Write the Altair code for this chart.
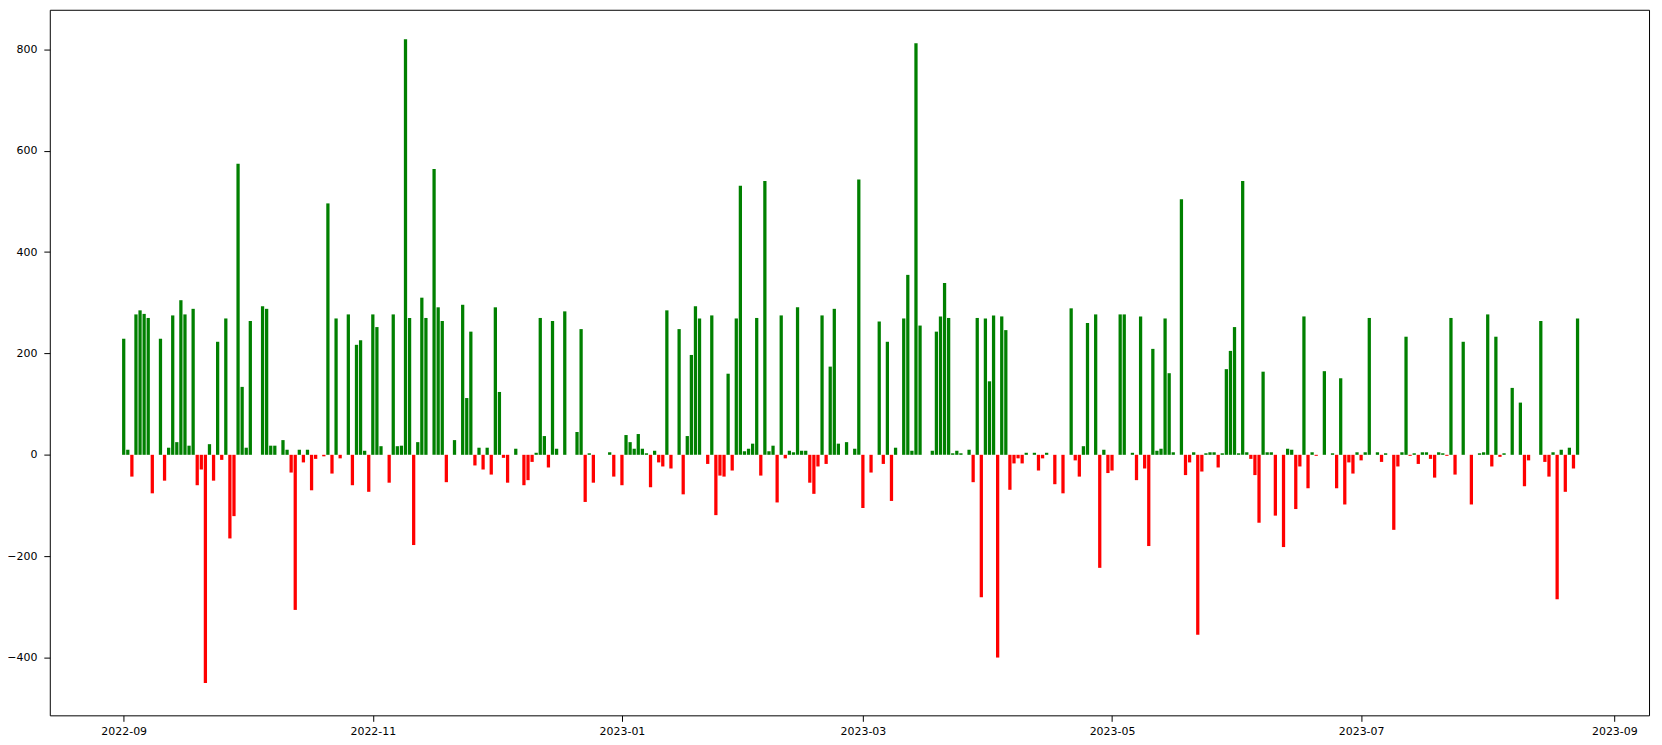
import altair as alt
import pandas as pd

# day offsets from 2022-09-01 and values
days = [0,1,2,3,4,5,6,7,9,10,11,12,13,14,15,16,17,18,19,20,21,22,23,24,25,26,27,28,29,30,31,
        34,35,36,37,39,40,41,42,43,44,45,46,47,49,50,51,52,53,55,56,57,58,59,60,61,62,63,65,66,67,68,69,70,
        71,72,73,74,76,77,78,79,81,83,84,85,86,87,88,89,90,91,92,93,94,96,98,99,100,101,102,103,104,105,106,
        108,111,112,113,114,115,119,120,122,123,124,125,126,127,128,129,130,131,132,133,134,136,137,138,139,140,141,
        143,144,145,146,147,148,149,150,151,152,153,154,155,156,157,158,159,160,161,162,163,164,165,166,167,168,169,170,
        171,172,173,174,175,177,179,180,181,183,185,186,187,188,189,191,192,193,194,195,198,199,200,201,202,203,204,205,
        207,208,209,210,211,212,213,214,215,216,217,218,219,220,221,223,224,225,226,228,230,232,233,234,235,236,238,239,
        240,241,242,244,245,247,248,249,250,251,252,253,254,255,256,257,259,260,261,262,263,264,265,266,267,268,269,270,
        271,272,273,274,275,276,277,278,279,280,281,282,284,285,286,287,288,289,290,291,292,294,296,297,298,299,300,301,
        302,303,304,305,307,308,309,311,312,313,314,315,316,317,318,319,320,321,322,323,324,325,326,328,330,332,333,334,
        335,336,337,338,340,342,343,344,347,348,349,350,351,352,353,354,355,356]

values = [229,10,-43,277,285,278,270,-76,229,-51,14,275,25,305,277,18,288,-60,-29,-450,21,-51,223,-10,269,-165,-121,574,134,14,264,
          293,288,18,18,29,10,-35,-306,10,-15,10,-70,-8,-3,496,-37,269,-7,277,-60,217,226,8,-73,277,252,17,-55,277,17,18,820,270,
          -178,25,310,270,564,291,264,-54,29,296,112,243,-21,14,-29,14,-39,291,124,-6,-55,12,-60,-50,-14,4,270,37,-25,264,12,
          283,45,248,-93,3,-55,5,-43,-60,39,25,12,41,12,3,-64,8,-15,-23,285,-27,248,-78,37,197,293,269,
          -18,275,-119,-41,-43,160,-31,269,531,7,12,22,270,-41,540,7,18,-94,275,-7,8,5,291,8,8,-55,-77,-23,
          275,-18,174,288,22,25,12,543,-105,-35,263,-18,223,-91,14,269,355,8,812,255,8,243,273,339,270,3,8,3,
          10,-54,270,-281,269,145,275,-400,273,246,-69,-17,-7,-17,4,4,-31,-7,4,-58,-76,289,-11,-43,17,260,277,-223,
          10,-36,-31,277,277,4,-50,273,-27,-180,209,8,12,269,161,5,504,-40,-15,5,-355,-33,3,5,5,-25,3,169,
          205,252,3,540,5,-8,-40,-134,164,5,5,-120,-182,12,10,-107,-23,273,-66,5,-2,165,3,-66,151,-98,-15,-37,
          5,-11,5,270,5,-14,3,-148,-23,5,233,-2,3,-18,5,5,-8,-45,5,3,-2,270,-39,223,-98,3,5,277,
          -23,233,-4,3,132,103,-62,-11,264,-14,-43,5,-285,10,-73,14,-27,269]

y_ticks = [-400, -200, 0, 200, 400, 600, 800]

base = pd.Timestamp("2022-09-01")
df = pd.DataFrame({"day": days, "value": values})
df["date"] = base + pd.to_timedelta(df["day"], unit="D")
df["start"] = df["date"] - pd.Timedelta(hours=9.6)
df["end"] = df["date"] + pd.Timedelta(hours=9.6)

x_ticks = [alt.DateTime(year=2022, month=9, date=1),
           alt.DateTime(year=2022, month=11, date=1),
           alt.DateTime(year=2023, month=1, date=1),
           alt.DateTime(year=2023, month=3, date=1),
           alt.DateTime(year=2023, month=5, date=1),
           alt.DateTime(year=2023, month=7, date=1),
           alt.DateTime(year=2023, month=9, date=1)]

chart = alt.Chart(df).mark_bar().encode(
    x=alt.X("start:T",
            scale=alt.Scale(domain=[alt.DateTime(year=2022, month=8, date=13, hours=21, minutes=36),
                                    alt.DateTime(year=2023, month=9, date=9, hours=12)]),
            axis=alt.Axis(values=x_ticks, format="%Y-%m", title=None, grid=False, domain=False,
                          tickSize=6, tickColor="black", labelPadding=4, labelFontSize=11,
                          labelFont="DejaVu Sans", labelColor="black", labelFlush=False)),
    x2="end:T",
    y=alt.Y("value:Q",
            scale=alt.Scale(domain=[-514, 878], nice=False, zero=False),
            axis=alt.Axis(values=y_ticks, title=None, grid=False, domain=False,
                          tickSize=6, tickColor="black", labelPadding=7, labelFontSize=11,
                          labelFont="DejaVu Sans", labelColor="black")),
    y2=alt.datum(0),
    color=alt.condition("datum.value >= 0", alt.value("green"), alt.value("red")),
).properties(
    width=1607, height=709,
    autosize=alt.AutoSizeParams(type="none"),
    padding={"left": 42, "top": 0, "right": 5, "bottom": 24},
).configure_view(
    stroke="black", strokeWidth=1
)

chart.save("out.html", embed_options={"renderer": "svg", "actions": False})
